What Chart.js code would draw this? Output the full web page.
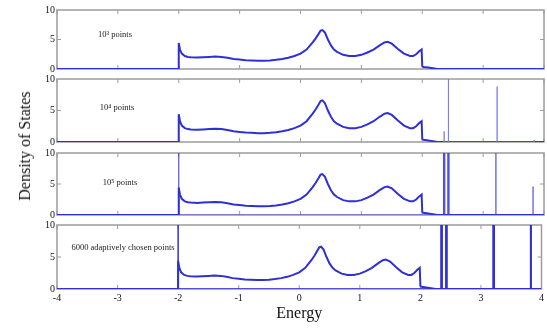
<!DOCTYPE html>
<html>
<head>
<meta charset="utf-8">
<script src="https://cdn.jsdelivr.net/npm/chart.js@4.4.1/dist/chart.umd.min.js"></script>
<style>
  body { margin: 0; background: #fff; }
  #wrap { position: relative; width: 547px; height: 328px; overflow: hidden; }
  canvas { position: absolute; left: 0; }
  #ytitle {
    position: absolute; left: 25px; top: 146px;
    transform: translate(-50%, -50%) rotate(-90deg);
    font: 16px "Liberation Serif", serif; white-space: nowrap; color: #111;
  }
</style>
</head>
<body>
<div id="wrap">
  <canvas id="p1" width="547" height="75" style="top:2px"></canvas>
  <canvas id="p2" width="547" height="79" style="top:71px"></canvas>
  <canvas id="p3" width="547" height="78" style="top:145px"></canvas>
  <canvas id="p4" width="547" height="111" style="top:217px"></canvas>
  <div id="ytitle">Density of States</div>
</div>
<script>
// density of states curve (same in every panel)
const energy = [-4, -2, -2, -1.98, -1.95, -1.9, -1.85, -1.8, -1.7, -1.6, -1.5, -1.4, -1.3, -1.2, -1.1,
  -1.0, -0.9, -0.8, -0.7, -0.6, -0.5, -0.4, -0.3, -0.2, -0.1, 0, 0.1, 0.2, 0.25, 0.3, 0.33, 0.36,
  0.4, 0.45, 0.5, 0.55, 0.6, 0.7, 0.8, 0.9, 1.0, 1.1, 1.2, 1.3, 1.38, 1.43, 1.5, 1.6, 1.7, 1.8,
  1.85, 1.9, 1.95, 1.99, 2.0, 2.02, 2.1, 2.2, 2.25, 4];
const dos = [0, 0, 4.4, 3.3, 2.6, 2.2, 2.05, 2.0, 1.95, 2.0, 2.05, 2.1, 2.05, 1.9, 1.7,
  1.6, 1.5, 1.45, 1.4, 1.4, 1.45, 1.55, 1.7, 1.9, 2.2, 2.6, 3.3, 4.5, 5.2, 6.0, 6.5, 6.6,
  6.2, 5.0, 4.0, 3.3, 2.9, 2.4, 2.2, 2.2, 2.4, 2.8, 3.3, 4.0, 4.5, 4.6, 4.3, 3.4, 2.6, 2.2,
  2.2, 2.5, 3.0, 3.3, 0.5, 0.35, 0.25, 0.1, 0, 0];

// spurious spikes outside the band, per panel
const spikeEnergy1 = [];
const spikeHeight1 = [];
const spikeEnergy2 = [2.36, 2.43, 3.23, 3.84];
const spikeHeight2 = [1.7, 10.5, 8.8, 0.3];
const spikeEnergy3 = [-2.0, 2.35, 2.37, 2.42, 2.44, 3.21, 3.82];
const spikeHeight3 = [12, 12, 12, 12, 12, 12, 4.6];
const spikeEnergy4 = [-2.0, 2.34, 2.36, 2.42, 2.44, 3.2, 3.22, 3.82, 3.83];
const spikeHeight4 = [12, 12, 12, 12, 12, 12, 12, 12, 12];

const panelLabels = ['10³ points', '10⁴ points', '10⁵ points', '6000 adaptively chosen points'];
const xTicks = [-4, -3, -2, -1, 0, 1, 2, 3, 4];
const yTicks = [0, 5, 10];

const blue = '#2f2fd6';
const frameGrey = '#9c9c9c';
const serif = '"Liberation Serif", "Times New Roman", serif';

function curvePoints() {
  return energy.map((e, i) => ({ x: e, y: dos[i] }));
}

function spikePoints(es, hs) {
  const pts = [];
  es.forEach((e, i) => {
    pts.push({ x: e, y: 0 }, { x: e, y: hs[i] }, { x: e, y: 0 });
  });
  return pts;
}

// grey box plus inward ticks, matlab style
const framePlugin = {
  id: 'frame',
  beforeDatasetsDraw(chart) {
    const { ctx, chartArea: a, scales } = chart;
    ctx.save();
    ctx.strokeStyle = frameGrey;
    ctx.lineWidth = 1.5;
    ctx.strokeRect(a.left, a.top, a.right - a.left, a.bottom - a.top);
    ctx.lineWidth = 1;
    ctx.beginPath();
    xTicks.forEach(t => {
      const px = scales.x.getPixelForValue(t);
      ctx.moveTo(px, a.top); ctx.lineTo(px, a.top + 4);
      ctx.moveTo(px, a.bottom); ctx.lineTo(px, a.bottom - 4);
    });
    const py = scales.y.getPixelForValue(5);
    ctx.moveTo(a.left, py); ctx.lineTo(a.left + 4, py);
    ctx.moveTo(a.right, py); ctx.lineTo(a.right - 4, py);
    ctx.stroke();
    ctx.restore();
  }
};

const labelPlugin = {
  id: 'panelLabel',
  afterDraw(chart, args, opts) {
    const { ctx, chartArea: a } = chart;
    ctx.save();
    ctx.font = '8.5px ' + serif;
    ctx.fillStyle = '#222';
    ctx.textAlign = 'center';
    ctx.textBaseline = 'middle';
    ctx.fillText(opts.text, a.left + opts.dx, a.top + opts.dy);
    ctx.restore();
  }
};

function makePanel(id, idx, spikes, spikeColor, spikeWidth, last) {
  const datasets = [];
  if (spikes.length) {
    datasets.push({
      data: spikes,
      borderColor: spikeColor,
      borderWidth: spikeWidth,
      pointRadius: 0
    });
  }
  datasets.push({
    data: curvePoints(),
    borderColor: blue,
    borderWidth: 2,
    pointRadius: 0
  });
  const labelPos = [[58, 25], [60, 29], [63, 30], [66, 23]][idx];
  return new Chart(document.getElementById(id), {
    type: 'line',
    data: { datasets },
    plugins: [framePlugin, labelPlugin],
    options: {
      responsive: false,
      animation: false,
      devicePixelRatio: 1,
      layout: { padding: { left: 0, right: 3, top: 8, bottom: last ? 0 : 6 } },
      plugins: {
        legend: { display: false },
        tooltip: { enabled: false },
        panelLabel: { text: panelLabels[idx], dx: labelPos[0], dy: labelPos[1] }
      },
      scales: {
        x: {
          type: 'linear', min: -4, max: 4,
          display: last,
          afterBuildTicks: s => { s.ticks = xTicks.map(v => ({ value: v })); },
          afterFit: s => { s.height = last ? 39 : 0; },
          grid: { display: false, drawTicks: false },
          border: { display: false },
          ticks: { padding: 3, color: '#111', font: { family: serif, size: 10 } },
          title: {
            display: true, text: 'Energy', color: '#111',
            font: { family: serif, size: 16 }, padding: { top: 0, bottom: 5 }
          }
        },
        y: {
          min: 0, max: 10,
          afterBuildTicks: s => { s.ticks = yTicks.map(v => ({ value: v })); },
          afterFit: s => { s.width = 57; },
          grid: { display: false, drawTicks: false },
          border: { display: false },
          ticks: { padding: 2, color: '#111', font: { family: serif, size: 10 } }
        }
      }
    }
  });
}

makePanel('p1', 0, spikePoints(spikeEnergy1, spikeHeight1), blue, 1, false);
makePanel('p2', 1, spikePoints(spikeEnergy2, spikeHeight2), 'rgba(110,110,240,0.75)', 1, false);
makePanel('p3', 2, spikePoints(spikeEnergy3, spikeHeight3), 'rgba(50,50,220,0.85)', 1.2, false);
makePanel('p4', 3, spikePoints(spikeEnergy4, spikeHeight4), blue, 1.5, true);
</script>
</body>
</html>
